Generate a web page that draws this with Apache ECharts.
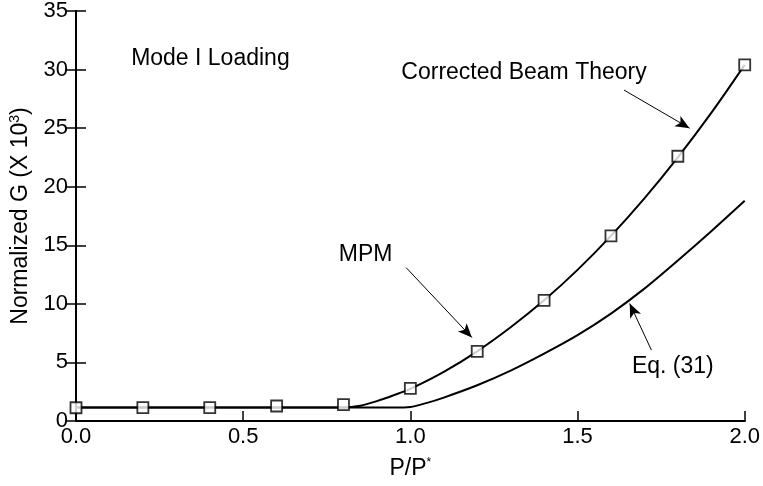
<!DOCTYPE html>
<html>
<head>
<meta charset="utf-8">
<script src="https://cdn.jsdelivr.net/npm/echarts@6/dist/echarts.min.js"></script>
<style>
  html, body { margin: 0; padding: 0; background: #fff; }
  #chart { width: 763px; height: 486px; }
</style>
</head>
<body>
<div id="chart"></div>
<script>
// Normalized energy release rate G (x10^3) against load ratio P/P*
const xTicks = [0.0, 0.5, 1.0, 1.5, 2.0];
const yTicks = [0, 5, 10, 15, 20, 25, 30, 35];

// Corrected beam theory curve
const cbtX = [0.0, 0.2, 0.4, 0.6, 0.8, 0.85, 0.9, 0.95, 1.0, 1.1, 1.2, 1.3, 1.4, 1.5, 1.6, 1.7, 1.8, 1.9, 2.0];
const cbtY = [1.15, 1.15, 1.15, 1.15, 1.15, 1.3, 1.7, 2.2, 2.75, 4.2, 5.95, 8.0, 10.3, 12.9, 15.8, 19.0, 22.5, 26.3, 30.4];

// MPM results (square markers)
const mpmX = [0.0, 0.2, 0.4, 0.6, 0.8, 1.0, 1.2, 1.4, 1.6, 1.8, 2.0];
const mpmY = [1.13, 1.15, 1.15, 1.28, 1.39, 2.78, 5.95, 10.3, 15.8, 22.6, 30.4];

// Eq. (31) curve
const eqX = [0.0, 0.5, 0.95, 1.0, 1.05, 1.1, 1.2, 1.3, 1.4, 1.5, 1.6, 1.7, 1.8, 1.9, 2.0];
const eqY = [1.15, 1.15, 1.15, 1.2, 1.55, 2.0, 3.05, 4.3, 5.75, 7.33, 9.17, 11.3, 13.7, 16.2, 18.8];

// Callout texts: [text, x, y]
const notes = [
  ['Mode I Loading', 0.402, 30.9],
  ['Corrected Beam Theory', 1.34, 29.7],
  ['MPM', 0.866, 14.2],
  ['Eq. (31)', 1.785, 4.63]
];
// Callout arrows: [fromX, fromY, toX, toY]
const arrows = [
  [1.639, 28.25, 1.835, 25.0],
  [0.9875, 13.09, 1.184, 7.13],
  [1.721, 6.05, 1.656, 10.03]
];

const FONT = '"Liberation Sans", Arial, Helvetica, sans-serif';
const FS = 22;
const NOTE_FS = 23;
const zip = (a, b) => a.map((v, i) => [v, b[i]]);

const chart = echarts.init(document.getElementById('chart'), null, { renderer: 'canvas' });

const axisLine = { show: true, lineStyle: { color: '#000', width: 2 } };
const tickIn = { show: true, inside: true, length: 10, lineStyle: { color: '#000', width: 1.5 } };

chart.setOption({
  animation: false,
  backgroundColor: '#fff',
  grid: { left: 76, right: 16, top: 10, bottom: 65, containLabel: false },
  xAxis: [{
    type: 'value', min: 0, max: 2, interval: 0.5,
    axisLine: axisLine, axisTick: tickIn, splitLine: { show: false },
    axisLabel: { color: '#000', fontSize: FS, fontFamily: FONT, margin: 5,
      formatter: v => v.toFixed(1) },
    name: '{b|P/P}{s|*}', nameLocation: 'middle', nameGap: 36,
    nameTextStyle: { rich: {
      b: { fontSize: 23, fontFamily: FONT, color: '#000' },
      s: { fontSize: 12, fontFamily: FONT, color: '#000', verticalAlign: 'top', padding: [0, 0, 11, 0] }
    } }
  }, {
    type: 'value', min: 0, max: 2, position: 'top',
    axisLine: axisLine, axisTick: { show: false }, axisLabel: { show: false }, splitLine: { show: false }
  }],
  yAxis: [{
    type: 'value', min: 0, max: 35, interval: 5,
    axisLine: axisLine, axisTick: tickIn, splitLine: { show: false },
    axisLabel: { color: '#000', fontSize: FS, fontFamily: FONT, margin: 8 },
    name: '{b|Normalized G (X 10}{s|3}{b|)}', nameLocation: 'middle', nameGap: 41, nameRotate: 90,
    nameTextStyle: { rich: {
      b: { fontSize: 23, fontFamily: FONT, color: '#000' },
      s: { fontSize: 14, fontFamily: FONT, color: '#000', verticalAlign: 'top', padding: [0, 0, 11, 0] }
    } }
  }, {
    type: 'value', min: 0, max: 35, interval: 5, position: 'right',
    axisLine: axisLine, axisTick: tickIn, axisLabel: { show: false }, splitLine: { show: false }
  }],
  series: [
    {
      name: 'Eq. (31)', type: 'line', data: zip(eqX, eqY),
      smooth: 0.3, showSymbol: false, symbol: 'none',
      lineStyle: { color: '#000', width: 2 }, z: 3
    },
    {
      name: 'Corrected Beam Theory', type: 'line', data: zip(cbtX, cbtY),
      smooth: 0.3, showSymbol: false, symbol: 'none',
      lineStyle: { color: '#000', width: 2 }, z: 3,
      markLine: {
        silent: true, animation: false,
        label: { show: false },
        lineStyle: { color: '#000', width: 1, type: 'solid' },
        symbol: ['none', 'arrow'], symbolSize: [9, 14],
        data: arrows.map(a => [
          { coord: [a[0], a[1]], symbol: 'none' },
          { coord: [a[2], a[3]], symbol: 'arrow' }
        ])
      },
      markPoint: {
        silent: true, animation: false,
        data: notes.map(n => ({
          coord: [n[1], n[2]], symbol: 'circle', symbolSize: 0,
          label: { show: true, position: 'inside', formatter: n[0],
            color: '#000', fontSize: NOTE_FS, fontFamily: FONT }
        }))
      }
    },
    {
      name: 'MPM', type: 'scatter', data: zip(mpmX, mpmY),
      symbol: 'rect', symbolSize: 11,
      itemStyle: { color: '#fff', borderColor: '#000', borderWidth: 1.8 }, z: 5
    }
  ]
});
</script>
</body>
</html>
